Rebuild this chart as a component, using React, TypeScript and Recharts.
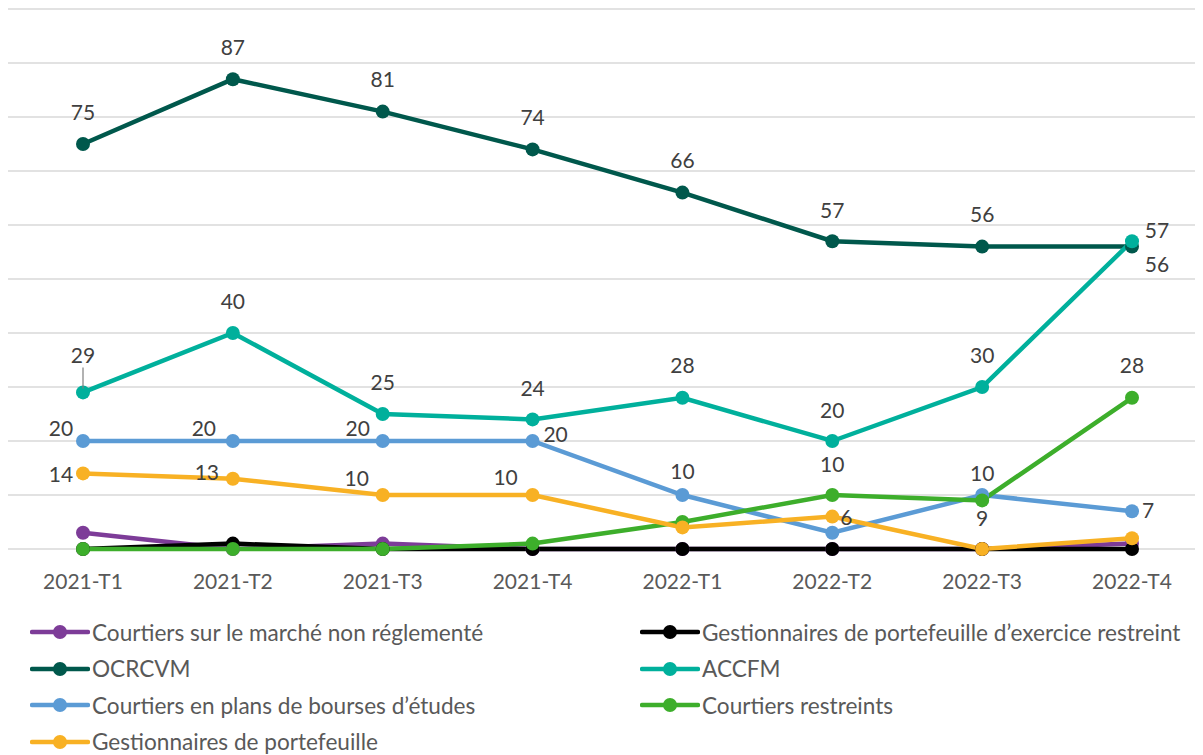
import { LineChart, Line, XAxis, YAxis, CartesianGrid, LabelList } from 'recharts'

const categories = ['2021-T1', '2021-T2', '2021-T3', '2021-T4', '2022-T1', '2022-T2', '2022-T3', '2022-T4']

const nonReglemente = [3, 0, 1, 0, 0, 0, 0, 1]
const exerciceRestreint = [0, 1, 0, 0, 0, 0, 0, 0]
const ocrcvm = [75, 87, 81, 74, 66, 57, 56, 56]
const accfm = [29, 40, 25, 24, 28, 20, 30, 57]
const boursesEtudes = [20, 20, 20, 20, 10, 3, 10, 7]
const courtiersRestreints = [0, 0, 0, 1, 5, 10, 9, 28]
const gestionnaires = [14, 13, 10, 10, 4, 6, 0, 2]

const yTicks = [0, 10, 20, 30, 40, 50, 60, 70, 80, 90, 100]

type Offset = [number, number] | null

interface Series {
  key: string
  name: string
  color: string
  values: number[]
  labels: Offset[]
}

// label offsets (dx, dy) from each point; null = no label shown
const series: Series[] = [
  {
    key: 'nonRegl', name: 'Courtiers sur le marché non réglementé', color: '#7D3C98',
    values: nonReglemente, labels: [null, null, null, null, null, null, null, null],
  },
  {
    key: 'exRestreint', name: 'Gestionnaires de portefeuille d’exercice restreint', color: '#000000',
    values: exerciceRestreint, labels: [null, null, null, null, null, null, null, null],
  },
  {
    key: 'ocrcvm', name: 'OCRCVM', color: '#00584C',
    values: ocrcvm,
    labels: [[0, -33], [0, -33], [0, -33], [0, -33], [0, -33], [0, -32], [0, -33], [25, 17]],
  },
  {
    key: 'accfm', name: 'ACCFM', color: '#00B09C',
    values: accfm,
    labels: [[0, -38], [0, -33], [0, -33], [0, -32], [0, -33], [0, -32], [0, -33], [25, -12]],
  },
  {
    key: 'bourses', name: 'Courtiers en plans de bourses d’études', color: '#5B9BD5',
    values: boursesEtudes,
    labels: [[-22, -14], [-29, -14], [-25, -14], [23, -8], [0, -25], null, [0, -23], [16, -2]],
  },
  {
    key: 'restreints', name: 'Courtiers restreints', color: '#3DAE2B',
    values: courtiersRestreints,
    labels: [null, null, null, null, null, [0, -32], [0, 17], [0, -33]],
  },
  {
    key: 'gestionnaires', name: 'Gestionnaires de portefeuille', color: '#F8B124',
    values: gestionnaires,
    labels: [[-22, 0], [-26, -7], [-26, -18], [-27, -19], null, [14, 0], null, null],
  },
]

const data = categories.map((cat, i) => {
  const row: Record<string, string | number> = { cat }
  series.forEach(s => { row[s.key] = s.values[i] })
  return row
})

const FONT = 'Lato, "Liberation Sans", sans-serif'

function makeLabel(s: Series) {
  return (props: any) => {
    const { x, y, value, index } = props
    const off = s.labels[index]
    if (!off) return null
    const lx = x + off[0]
    const ly = y + off[1]
    return (
      <g key={`${s.key}-${index}`}>
        {s.key === 'accfm' && index === 0 && (
          <line x1={x} y1={ly + 13} x2={x} y2={y - 4} stroke="#7f7f7f" strokeWidth={1.2} />
        )}
        <text
          x={lx}
          y={ly}
          textAnchor="middle"
          dominantBaseline="central"
          fill="#404040"
          fontSize={21}
          fontFamily={FONT}
        >
          {value}
        </text>
      </g>
    )
  }
}

function LegendItem({ s }: { s: Series }) {
  return (
    <div style={{ display: 'flex', alignItems: 'center', height: 36.5 }}>
      <svg width={60} height={20} style={{ flexShrink: 0 }}>
        <line x1={2} y1={10} x2={58} y2={10} stroke={s.color} strokeWidth={4.5} strokeLinecap="round" />
        <circle cx={30} cy={10} r={7} fill={s.color} />
      </svg>
      <span style={{ color: '#595959', fontSize: 22.6, fontFamily: FONT, marginLeft: 2, whiteSpace: 'nowrap' }}>
        {s.name}
      </span>
    </div>
  )
}

export default function App() {
  return (
    <div style={{ width: 1195, height: 747, position: 'relative', background: '#fff' }}>
      <LineChart width={1195} height={600} data={data} margin={{ top: 1, right: 0, bottom: 19, left: 0 }}>
        <CartesianGrid vertical={false} stroke="#d9d9d9" strokeWidth={1.5} />
        <XAxis
          dataKey="cat"
          padding={{ left: 75, right: 71 }}
          axisLine={false}
          tickLine={false}
          tickSize={0}
          tickMargin={25}
          height={40}
          interval={0}
          tick={{ fill: '#595959', fontSize: 21, fontFamily: FONT }}
        />
        <YAxis hide domain={[0, 100]} ticks={yTicks} />
        {series.map(s => (
          <Line
            key={s.key}
            dataKey={s.key}
            name={s.name}
            stroke={s.color}
            strokeWidth={4.5}
            dot={{ r: 7, fill: s.color, stroke: s.color, strokeWidth: 0 }}
            activeDot={false}
            isAnimationActive={false}
          >
            <LabelList dataKey={s.key} content={makeLabel(s)} />
          </Line>
        ))}
      </LineChart>
      <div
        style={{
          position: 'absolute',
          left: 22,
          top: 606,
          display: 'grid',
          gridTemplateColumns: '610px 560px',
        }}
      >
        {series.map(s => (
          <LegendItem key={s.key} s={s} />
        ))}
      </div>
    </div>
  )
}
